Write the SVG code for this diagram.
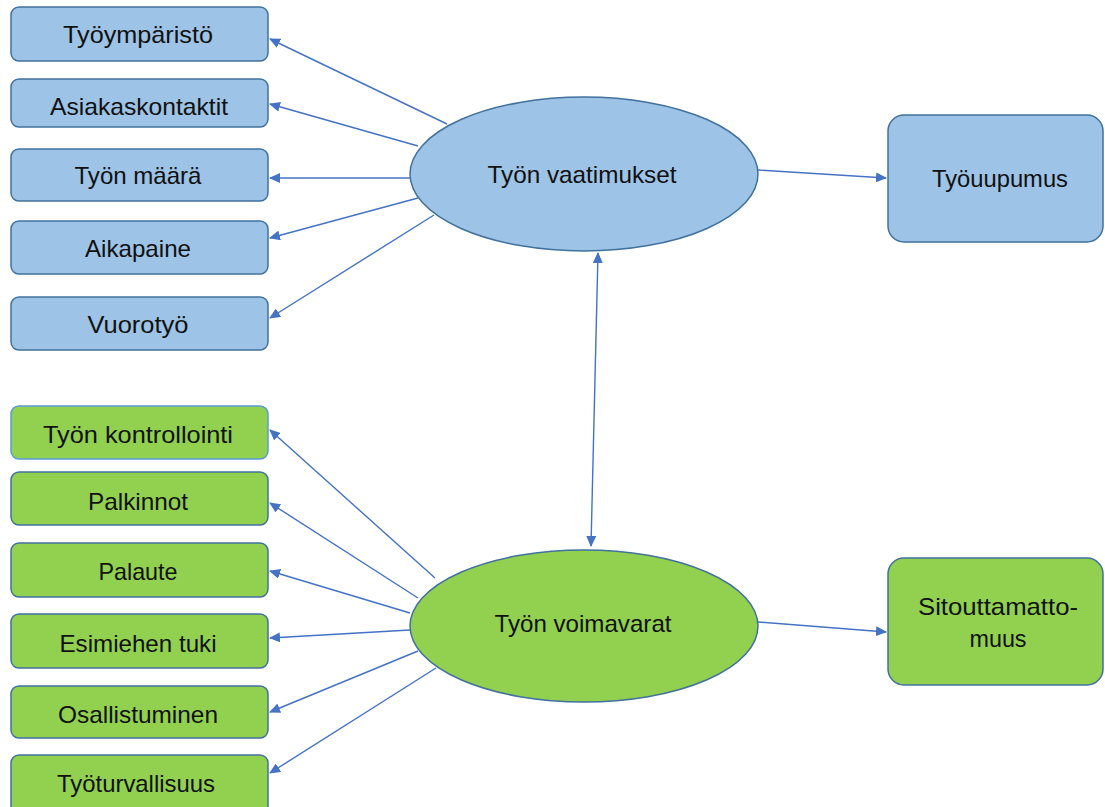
<svg xmlns="http://www.w3.org/2000/svg" width="1105" height="807" viewBox="0 0 1105 807">
  <style>
    .lbl { font-family: "Liberation Sans", Arial, sans-serif; font-size: 24px; fill: #111; text-anchor: middle; }
    .blue { fill: #9DC3E6; stroke: #41719C; stroke-width: 1.5; }
    .green { fill: #92D050; stroke: #41719C; stroke-width: 1.5; }
    .green-lt { fill: #92D050; stroke: #5B9BD5; stroke-width: 1.5; }
    .conn { stroke: #4472C4; stroke-width: 1.4; fill: none; marker-end: url(#arr); }
  </style>
  <defs>
    <marker id="arr" markerWidth="11" markerHeight="10" refX="10" refY="5" orient="auto" markerUnits="userSpaceOnUse">
      <path d="M0,0 L11,5 L0,10 Z" fill="#4472C4"/>
    </marker>
    <marker id="arrStart" markerWidth="11" markerHeight="10" refX="1" refY="5" orient="auto" markerUnits="userSpaceOnUse">
      <path d="M11,0 L0,5 L11,10 Z" fill="#4472C4"/>
    </marker>
  </defs>

  <rect width="1105" height="807" fill="#ffffff"/>

  <!-- connectors -->
  <g id="connectors">
    <line class="conn" x1="447" y1="124" x2="270" y2="39"/>
    <line class="conn" x1="418" y1="146" x2="270" y2="104"/>
    <line class="conn" x1="410" y1="178" x2="270" y2="178"/>
    <line class="conn" x1="418" y1="198" x2="270" y2="238"/>
    <line class="conn" x1="434" y1="215" x2="270" y2="318"/>
    <line class="conn" x1="758" y1="170" x2="886" y2="178"/>
    <line class="conn" x1="591" y1="546" x2="598" y2="253" marker-start="url(#arrStart)"/>
    <line class="conn" x1="435" y1="578" x2="270" y2="430"/>
    <line class="conn" x1="418" y1="598" x2="270" y2="503"/>
    <line class="conn" x1="410" y1="613" x2="270" y2="571"/>
    <line class="conn" x1="410" y1="630" x2="270" y2="638"/>
    <line class="conn" x1="418" y1="651" x2="270" y2="712"/>
    <line class="conn" x1="436" y1="668" x2="270" y2="773"/>
    <line class="conn" x1="758" y1="622" x2="886" y2="632"/>
  </g>

  <!-- job demands -->
  <g id="n-tyoymparisto"><rect class="blue" x="11" y="7" width="257" height="54" rx="8"/><text class="lbl" x="138" y="43" textLength="150" lengthAdjust="spacingAndGlyphs">Työympäristö</text></g>
  <g id="n-asiakaskontaktit"><rect class="blue" x="11" y="79" width="257" height="48" rx="8"/><text class="lbl" x="139" y="115" textLength="178" lengthAdjust="spacingAndGlyphs">Asiakaskontaktit</text></g>
  <g id="n-tyon-maara"><rect class="blue" x="11" y="149" width="257" height="52" rx="8"/><text class="lbl" x="138" y="184" textLength="127" lengthAdjust="spacingAndGlyphs">Työn määrä</text></g>
  <g id="n-aikapaine"><rect class="blue" x="11" y="221" width="257" height="53" rx="8"/><text class="lbl" x="138" y="257" textLength="106" lengthAdjust="spacingAndGlyphs">Aikapaine</text></g>
  <g id="n-vuorotyo"><rect class="blue" x="11" y="297" width="257" height="53" rx="8"/><text class="lbl" x="138" y="333" textLength="101" lengthAdjust="spacingAndGlyphs">Vuorotyö</text></g>

  <g id="n-vaatimukset"><ellipse class="blue" cx="584" cy="174" rx="174" ry="77"/><text class="lbl" x="582" y="183" textLength="189" lengthAdjust="spacingAndGlyphs">Työn vaatimukset</text></g>
  <g id="n-tyouupumus"><rect class="blue" x="888" y="115" width="215" height="127" rx="16"/><text class="lbl" x="1000" y="187" textLength="136" lengthAdjust="spacingAndGlyphs">Työuupumus</text></g>

  <!-- job resources -->
  <g id="n-kontrollointi"><rect class="green-lt" x="11" y="406" width="257" height="53" rx="8"/><text class="lbl" x="138" y="443" textLength="190" lengthAdjust="spacingAndGlyphs">Työn kontrollointi</text></g>
  <g id="n-palkinnot"><rect class="green" x="11" y="472" width="257" height="53" rx="8"/><text class="lbl" x="138" y="510" textLength="100" lengthAdjust="spacingAndGlyphs">Palkinnot</text></g>
  <g id="n-palaute"><rect class="green" x="11" y="543" width="257" height="54" rx="8"/><text class="lbl" x="138" y="580" textLength="79" lengthAdjust="spacingAndGlyphs">Palaute</text></g>
  <g id="n-esimiehen-tuki"><rect class="green" x="11" y="614" width="257" height="54" rx="8"/><text class="lbl" x="138" y="652" textLength="157" lengthAdjust="spacingAndGlyphs">Esimiehen tuki</text></g>
  <g id="n-osallistuminen"><rect class="green" x="11" y="686" width="257" height="52" rx="8"/><text class="lbl" x="138" y="723" textLength="160" lengthAdjust="spacingAndGlyphs">Osallistuminen</text></g>
  <g id="n-tyoturvallisuus"><rect class="green" x="11" y="755" width="257" height="60" rx="8"/><text class="lbl" x="136" y="792" textLength="158" lengthAdjust="spacingAndGlyphs">Työturvallisuus</text></g>

  <g id="n-voimavarat"><ellipse class="green" cx="584" cy="626" rx="174" ry="76"/><text class="lbl" x="583" y="632" textLength="177" lengthAdjust="spacingAndGlyphs">Työn voimavarat</text></g>
  <g id="n-sitouttamattomuus"><rect class="green" x="888" y="558" width="215" height="127" rx="16"/><text class="lbl" x="998" y="615" textLength="160" lengthAdjust="spacingAndGlyphs">Sitouttamatto-</text><text class="lbl" x="998" y="647" textLength="57" lengthAdjust="spacingAndGlyphs">muus</text></g>
</svg>
